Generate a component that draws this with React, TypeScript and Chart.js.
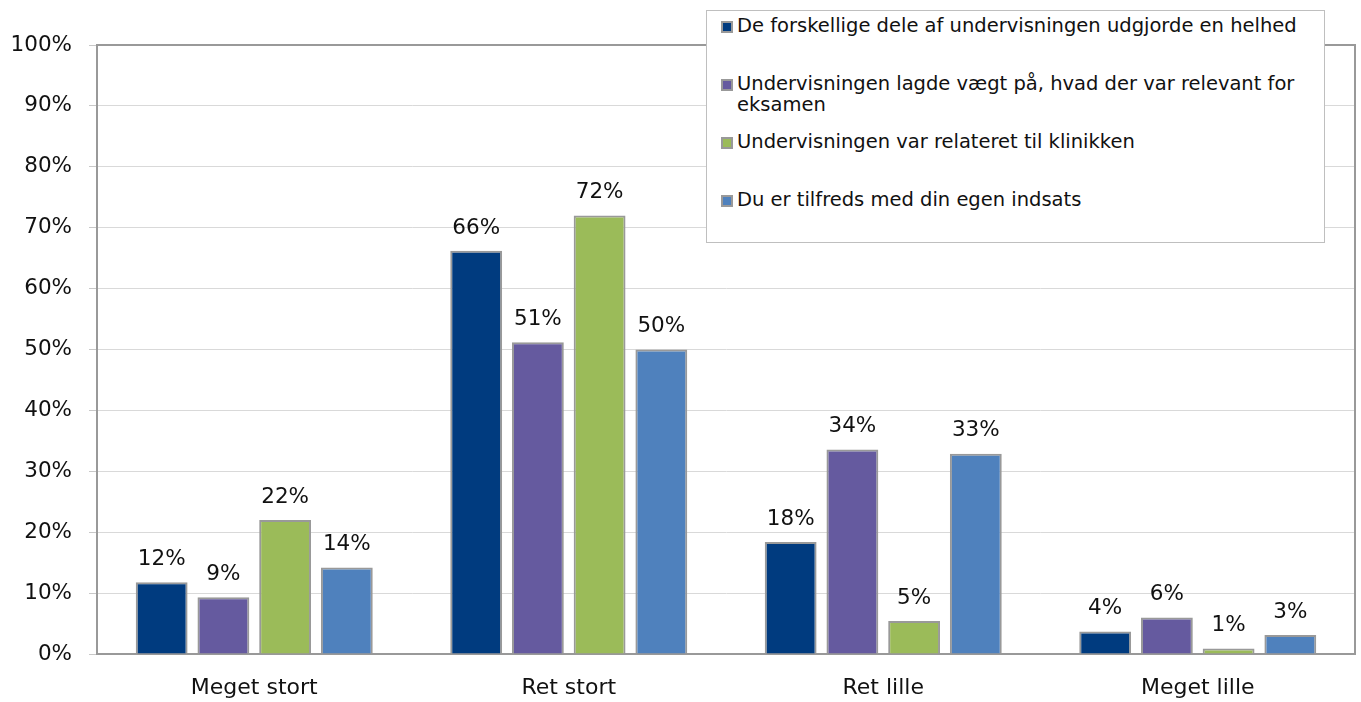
import React, { useEffect, useRef } from "react";
import { Chart, registerables } from "chart.js";

Chart.register(...registerables);

const categories = ["Meget stort", "Ret stort", "Ret lille", "Meget lille"];
const seriesNames = [
  "De forskellige dele af undervisningen udgjorde en helhed",
  "Undervisningen lagde vægt på, hvad der var relevant for eksamen",
  "Undervisningen var relateret til klinikken",
  "Du er tilfreds med din egen indsats",
];
const helhed = [11.8, 9.3, 22.0, 14.2];
const eksamen = [66.2, 51.2, 72.0, 50.0];
const klinik = [18.4, 33.6, 5.4, 32.9];
const indsats = [3.7, 6.0, 0.9, 3.1];
// values per series (series-major)
const seriesValues = [
  [helhed[0], eksamen[0], klinik[0], indsats[0]],
  [helhed[1], eksamen[1], klinik[1], indsats[1]],
  [helhed[2], eksamen[2], klinik[2], indsats[2]],
  [helhed[3], eksamen[3], klinik[3], indsats[3]],
];
const seriesColors = ["#003B7F", "#655A9F", "#9BBB59", "#4F81BD"];
const yTicks = [0, 10, 20, 30, 40, 50, 60, 70, 80, 90, 100];

const FONT = "'DejaVu Sans', sans-serif";

const dataLabelPlugin = {
  id: "dataLabels",
  afterDatasetsDraw(chart: any) {
    const ctx = chart.ctx;
    ctx.save();
    ctx.font = `21.5px ${FONT}`;
    ctx.fillStyle = "#111";
    ctx.textAlign = "center";
    ctx.textBaseline = "bottom";
    chart.data.datasets.forEach((ds: any, di: number) => {
      const meta = chart.getDatasetMeta(di);
      meta.data.forEach((el: any, i: number) => {
        ctx.fillText(Math.round(ds.data[i]) + "%", el.x, el.y - 12);
      });
    });
    ctx.restore();
  },
};

const framePlugin = {
  id: "frame",
  afterDraw(chart: any) {
    const { ctx, chartArea } = chart;
    ctx.save();
    ctx.strokeStyle = "#999";
    ctx.lineWidth = 2;
    ctx.beginPath();
    ctx.moveTo(chartArea.left, chartArea.top);
    ctx.lineTo(chartArea.right, chartArea.top);
    ctx.lineTo(chartArea.right, chartArea.bottom);
    ctx.stroke();
    ctx.restore();
  },
};

export default function App() {
  const ref = useRef<HTMLCanvasElement>(null);
  useEffect(() => {
    document.body.style.margin = "0";
    const chart = new Chart(ref.current!, {
      type: "bar",
      data: {
        labels: categories,
        datasets: seriesNames.map((name, i) => ({
          label: name,
          data: seriesValues[i],
          backgroundColor: seriesColors[i],
          borderColor: "#999",
          borderWidth: 2,
          barPercentage: 0.84,
          categoryPercentage: 0.785,
        })),
      },
      options: {
        animation: false,
        responsive: false,
        devicePixelRatio: 1,
        layout: { padding: { top: 45, right: 6, left: 0, bottom: 0 } },
        plugins: { legend: { display: false }, tooltip: { enabled: false } },
        scales: {
          x: {
            grid: { display: false },
            border: { color: "#999", width: 2 },
            ticks: { color: "#111", font: { family: FONT, size: 22 }, padding: 13 },
            afterFit: (s: any) => {
              s.height = 48;
            },
          },
          y: {
            min: 0,
            max: 100,
            afterBuildTicks: (s: any) => {
              s.ticks = yTicks.map((v) => ({ value: v }));
            },
            grid: { color: "#d9d9d9", tickColor: "#c8c8c8", tickLength: 8 },
            border: { color: "#999", width: 2 },
            ticks: {
              color: "#111",
              font: { family: FONT, size: 21.5 },
              padding: 17,
              callback: (v: any) => v + "%",
            },
            afterFit: (s: any) => {
              s.width = 97;
            },
          },
        },
      },
      plugins: [dataLabelPlugin, framePlugin],
    });
    return () => chart.destroy();
  }, []);

  return (
    <div style={{ position: "relative", width: 1361, height: 702, background: "#fff" }}>
      <canvas ref={ref} width={1361} height={702} style={{ display: "block" }} />
      <div
        style={{
          position: "absolute",
          left: 706,
          top: 10,
          width: 617,
          height: 231,
          border: "1px solid #bfbfbf",
          background: "#fff",
          fontFamily: FONT,
          fontSize: 19.5,
          color: "#111",
        }}
      >
        {seriesNames.map((name, i) => (
          <div
            key={name}
            style={{
              position: "absolute",
              left: 14,
              top: 4 + i * 58,
              width: 596,
              display: "flex",
              alignItems: "flex-start",
              lineHeight: "21px",
            }}
          >
            <span
              style={{
                display: "inline-block",
                width: 8,
                height: 8,
                marginTop: 6,
                marginRight: 4,
                flex: "0 0 auto",
                background: seriesColors[i],
                border: "2px solid #999",
              }}
            />
            <span>{name}</span>
          </div>
        ))}
      </div>
    </div>
  );
}
